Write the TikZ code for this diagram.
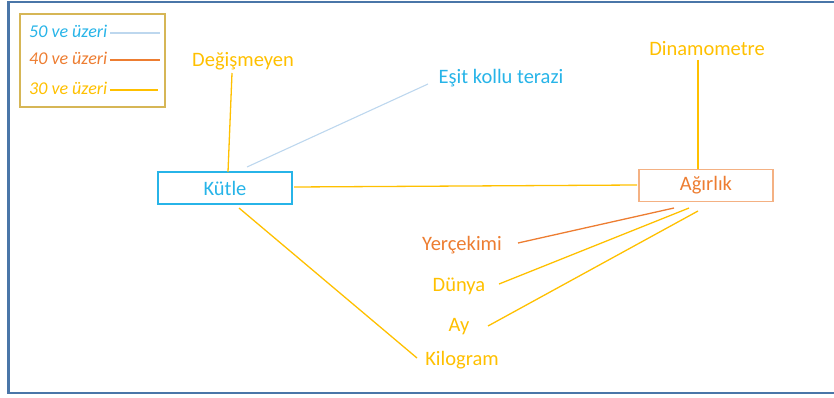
\documentclass[tikz,border=0pt]{standalone}
\usepackage{fontspec}
\setmainfont{Carlito}
\definecolor{frameblue}{HTML}{4A76A8}
\definecolor{cblue}{HTML}{27B4E8}
\definecolor{clightblue}{HTML}{BDD7EE}
\definecolor{corange}{HTML}{ED7D31}
\definecolor{corangelight}{HTML}{F4B183}
\definecolor{cgold}{HTML}{FFC000}
\definecolor{legendgold}{HTML}{D6B656}
\begin{document}
\begin{tikzpicture}[x=1pt,y=-1pt,
  lbl/.style={font=\fontsize{20.5}{22}\selectfont, inner sep=0pt, anchor=center},
  leg/.style={font=\fontsize{18}{20}\selectfont\itshape, inner sep=0pt, anchor=west},
  boxnode/.style={draw, line width=1.2pt, minimum width=134pt, minimum height=32pt, inner sep=0pt, font=\fontsize{20.5}{22}\selectfont},
  goldline/.style={cgold, line width=1.3pt},
  orangeline/.style={corange, line width=1.3pt},
  blueline/.style={clightblue, line width=1.1pt}]
\useasboundingbox (0,0) rectangle (834,398);
% outer frame (right side cut off)
\draw[frameblue, line width=2.2pt] (840,2) -- (8.5,2) -- (8.5,393) -- (840,393);
% legend
\node[draw=legendgold, line width=1.1pt, minimum width=145pt, minimum height=93pt, inner sep=0pt] (legend) at (92.5,60.5) {};
\node[leg, text=cblue] (l50) at (29,31) {50 ve üzeri};
\node[leg, text=corange] (l40) at (29,58) {40 ve üzeri};
\node[leg, text=cgold] (l30) at (29,88) {30 ve üzeri};
\coordinate (s50) at (110,33);
\coordinate (e50) at (160,33);
\coordinate (s40) at (110,60);
\coordinate (e40) at (160,60);
\coordinate (s30) at (110,90);
\coordinate (e30) at (158,90);
\draw[blueline] (s50) -- (e50);
\draw[orangeline] (s40) -- (e40);
\draw[goldline] (s30) -- (e30);
% main boxes
\node[boxnode, draw=cblue, text=cblue] (kutle) at (225,188) {Kütle};
\node[boxnode, draw=corangelight, text=corange] (agirlik) at (706,185.5) {Ağırlık};
% labels
\node[lbl, text=cgold] (degis) at (243,61) {Değişmeyen};
\node[lbl, text=cblue] (esit) at (501,78) {Eşit kollu terazi};
\node[lbl, text=cgold] (dinamo) at (707,48.5) {Dinamometre};
\node[lbl, text=corange] (yercekimi) at (462,245) {Yerçekimi};
\node[lbl, text=cgold] (dunya) at (459,286) {Dünya};
\node[lbl, text=cgold] (ay) at (459,327) {Ay};
\node[lbl, text=cgold] (kilogram) at (462,360) {Kilogram};
% connectors
\draw[goldline] ([shift={(-11,12)}]degis.center) -- ([shift={(3,-16)}]kutle.center);
\draw[blueline] ([shift={(-73,6)}]esit.center) -- ([shift={(22,-21)}]kutle.center);
\draw[goldline] ([shift={(69,-1)}]kutle.center) -- ([shift={(-69,-0.5)}]agirlik.center);
\draw[goldline] ([shift={(-9,11.5)}]dinamo.center) -- ([shift={(-8,-17)}]agirlik.center);
\draw[goldline] ([shift={(14,20)}]kutle.center) -- ([shift={(-45,-2)}]kilogram.center);
\draw[orangeline] ([shift={(56,-2)}]yercekimi.center) -- ([shift={(-32,22.5)}]agirlik.center);
\draw[goldline] ([shift={(40,-2)}]dunya.center) -- ([shift={(-17,22.5)}]agirlik.center);
\draw[goldline] ([shift={(29,-1)}]ay.center) -- ([shift={(-8,25.5)}]agirlik.center);
\end{tikzpicture}
\end{document}
